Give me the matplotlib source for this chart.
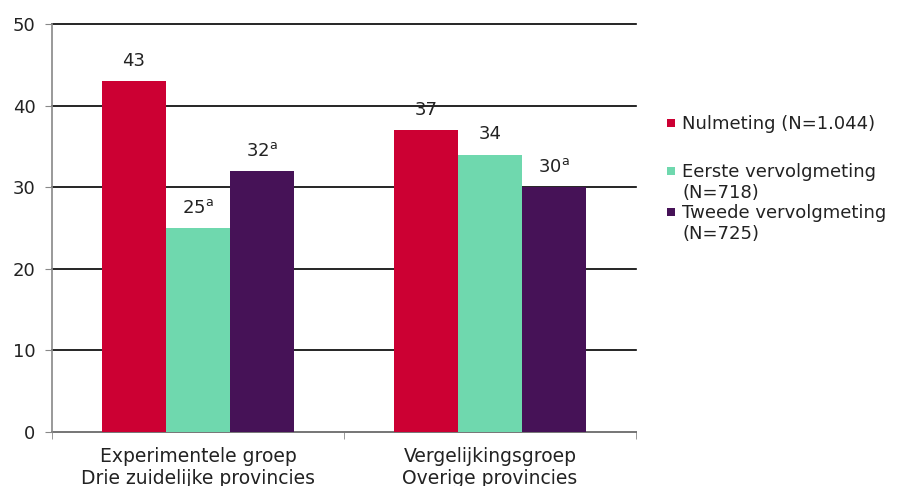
import numpy as np
import matplotlib.pyplot as plt
from matplotlib.patches import Rectangle

groepen = ['Experimentele groep\nDrie zuidelijke provincies',
           'Vergelijkingsgroep\nOverige provincies']
reeksen = ['Nulmeting (N=1.044)',
           'Eerste vervolgmeting\n(N=718)',
           'Tweede vervolgmeting\n(N=725)']
nulmeting = [43, 37]
eerste = [25, 34]
tweede = [32, 30]
labels_nul = ['43', '37']
labels_eerste = ['25$^{\\mathrm{a}}$', '34']
labels_tweede = ['32$^{\\mathrm{a}}$', '30$^{\\mathrm{a}}$']
kleuren = ['#CC0033', '#6FD8AE', '#461257']

W, H = 897, 486
fig = plt.figure(figsize=(W / 100, H / 100), dpi=100)
ax = fig.add_axes([52 / W, 1 - 432 / H, 584 / W, 408 / H])

tekst = '#222222'
fs = 13

x = np.arange(len(groepen))
w = 0.22
series = [nulmeting, eerste, tweede]
labels = [labels_nul, labels_eerste, labels_tweede]
for i, (vals, labs) in enumerate(zip(series, labels)):
    pos = x + (i - 1) * w
    ax.bar(pos, vals, w, color=kleuren[i], label=reeksen[i], zorder=3)
    for p, v, t in zip(pos, vals, labs):
        ax.annotate(t, (p, v), xytext=(0, 11), textcoords='offset points',
                    ha='center', va='baseline', fontsize=fs, color=tekst)

ax.set_ylim(0, 50)
ax.set_xlim(-0.5, 1.5)
ax.set_yticks(range(0, 51, 10))
ax.yaxis.grid(True, color='black', linewidth=1.2, zorder=0)
for gl in ax.get_ygridlines():
    gl.set_clip_on(False)
ax.tick_params(axis='y', labelsize=fs, colors=tekst, length=5, color='#888888', pad=7)
ax.set_xticks(x)
ax.set_xticklabels(groepen, fontsize=fs + 0.5, color=tekst, linespacing=1.15)
ax.tick_params(axis='x', length=0, pad=11)
ax.set_xticks([-0.5, 0.5, 1.5], minor=True)
ax.tick_params(axis='x', which='minor', length=5, color='#888888')
for s in ['top', 'right']:
    ax.spines[s].set_visible(False)
for s in ['left', 'bottom']:
    ax.spines[s].set_color('#888888')
    ax.spines[s].set_linewidth(1.2)

# legenda, handmatig geplaatst
leg_y = [123, 171, 212]
for kleur, naam, yc in zip(kleuren, reeksen, leg_y):
    fig.add_artist(Rectangle((667 / 100, (H - yc - 4) / 100), 0.08, 0.08,
                             facecolor=kleur, edgecolor='none',
                             transform=fig.dpi_scale_trans))
    fig.text(682 / W, 1 - (yc - 8) / H, naam, fontsize=fs, color=tekst,
             ha='left', va='top', linespacing=1.2)

plt.savefig('out.png')
